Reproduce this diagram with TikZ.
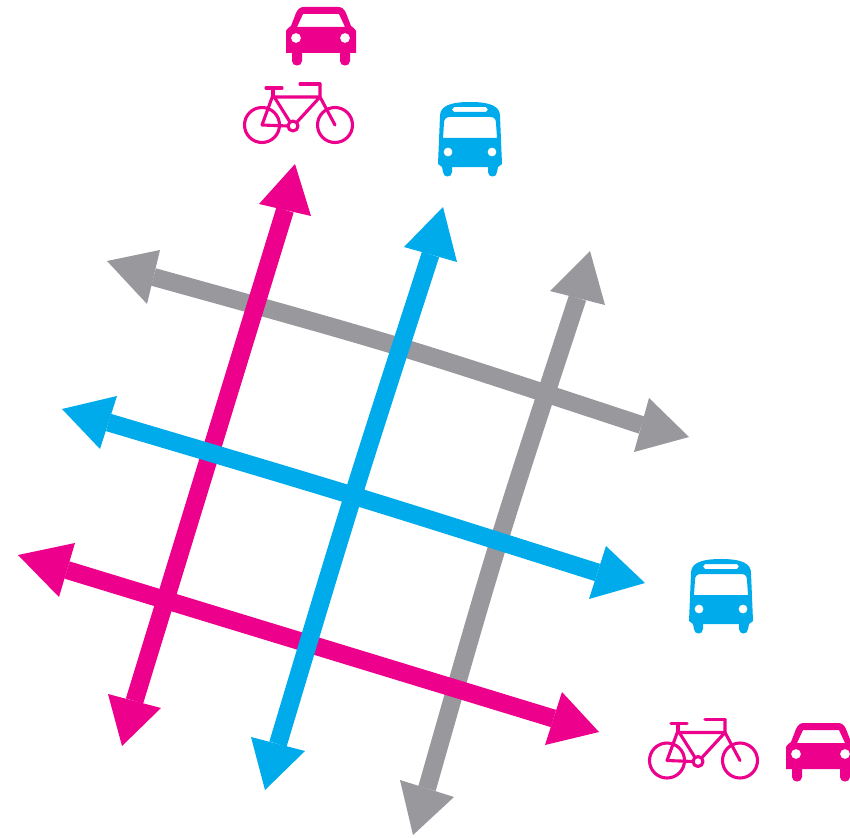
\documentclass[tikz,border=0pt]{standalone}
\usetikzlibrary{calc}
\definecolor{pnk}{RGB}{236,0,140}
\definecolor{blu}{RGB}{0,171,236}
\definecolor{gry}{RGB}{152,152,157}
\tikzset{
  px/.style={x=1pt,y=-1pt},
  shaftline/.style={line width=18pt},
  frameline/.style={line width=3.1pt,line cap=round,line join=round},
}
% #1 colour; #2 tip a; #3,#4 barbs a; #5 tip b; #6,#7 barbs b; #8 shaft control point (pixel coordinates)
\newcommand{\dblarrow}[8]{%
  \coordinate (ta) at (#2); \coordinate (a1) at (#3); \coordinate (a2) at (#4);
  \coordinate (tb) at (#5); \coordinate (b1) at (#6); \coordinate (b2) at (#7);
  \coordinate (ma) at ($(a1)!0.5!(a2)$); \coordinate (mb) at ($(b1)!0.5!(b2)$);
  \coordinate (cc) at (#8);
  \draw[#1,shaftline] (ma) .. controls (cc) .. (mb);
  \fill[#1] (ta) -- (a1) -- (a2) -- cycle;
  \fill[#1] (tb) -- (b1) -- (b2) -- cycle;
}
\newcommand{\caricon}[1]{%
  \begin{scope}[shift={(#1)}]
    \fill[pnk,even odd rule] (-35,24) .. controls (-35,23) and (-33,21) .. (-30,19)
      -- (-25,6) .. controls (-23,2) and (-21,0) .. (-17,0) -- (17,0)
      .. controls (21,0) and (23,2) .. (25,6) -- (30,19)
      .. controls (33,21) and (35,23) .. (35,24) -- (35,46) -- (29,46) -- (29,54)
      .. controls (29,60) and (19,60) .. (19,54) -- (19,46) -- (-19,46) -- (-19,54)
      .. controls (-19,60) and (-29,60) .. (-29,54) -- (-29,46) -- (-35,46) -- cycle
      (-24,20) -- (24,20) -- (18,7) -- (-18,7) -- cycle
      (-25,31) circle (5) (24,31) circle (5);
  \end{scope}}
\newcommand{\busicon}[1]{%
  \begin{scope}[shift={(#1)}]
    \fill[blu,even odd rule] (-32,62) -- (-30,14) .. controls (-30,5) and (-22,0) .. (0,0)
      .. controls (22,0) and (30,5) .. (30,14) -- (32,62) -- (28,65) -- (27,70)
      .. controls (27,76) and (18,76) .. (18,70) -- (18,65) -- (-18,65) -- (-18,70)
      .. controls (-18,76) and (-27,76) .. (-27,70) -- (-28,65) -- cycle
      (-26,21) .. controls (-26,17) and (-24,15) .. (-20,15) -- (20,15)
      .. controls (24,15) and (26,17) .. (26,21) -- (27,36) -- (-27,36) -- cycle
      (-16,5) -- (16,5) -- (18,7.5) -- (16,10) -- (-16,10) -- (-18,7.5) -- cycle
      (-22,50) circle (4.5) (22,50) circle (4.5);
  \end{scope}}
\newcommand{\bikeicon}[1]{%
  \begin{scope}[shift={(#1)},pnk,frameline]
    \draw (0,0) circle (17.5) (73,0) circle (17.5);
    \draw (31,1) circle (5);
    \draw (0,0) -- (11,-30) -- (28,-3) (0,0) -- (26,1);
    \draw (11,-28) -- (58,-28) -- (35,-3);
    \draw (58,-41) -- (58,-28) -- (73,0);
    \draw (4,-37) -- (20,-37) (11,-37) -- (11,-28);
    \draw (38,-41) -- (58,-41);
  \end{scope}}
\begin{document}
\begin{tikzpicture}[px]
\useasboundingbox (0,0) rectangle (850,837);
\fill[white] (0,0) rectangle (850,837);
\dblarrow{gry}{107,261}{160,250}{147,304}{689,437}{649,398}{634,452}{399,345}
\dblarrow{gry}{590,251}{550,291}{605,305}{413,835}{400,780}{454,797}{497,543}
\dblarrow{pnk}{18,555}{75,543}{59,597}{599,732}{562,692}{545,745}{310,644}
\dblarrow{pnk}{295,164}{259,204}{311,216}{122,746}{108,694}{161,708}{209,455}
\dblarrow{blu}{62,409}{117,396}{100,449}{645,583}{606,546}{589,599}{353,495}
\dblarrow{blu}{443,207}{404,247}{457,262}{265,790}{251,737}{305,751}{352,497}
\caricon{321,7}
\caricon{821,723}
\busicon{470,102}
\busicon{721,559}
\bikeicon{262,125}
\bikeicon{667,760.5}
\end{tikzpicture}
\end{document}
